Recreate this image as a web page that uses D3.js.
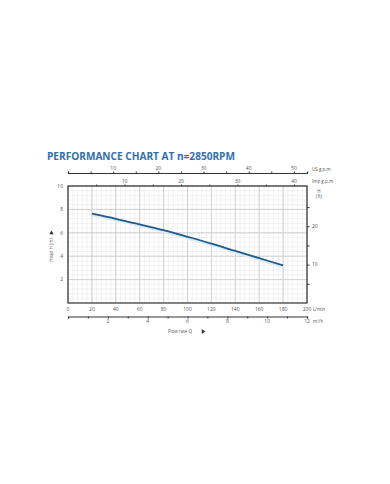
<!DOCTYPE html>
<html>
<head>
<meta charset="utf-8">
<script src="https://cdn.jsdelivr.net/npm/d3@7"></script>
<style>
  body { margin: 0; background: #fff; }
  svg text { font-family: "Open Sans", "Noto Sans", sans-serif; fill: #555; }
  .title { font-weight: 700; fill: #2f6fae; }
</style>
</head>
<body>
<div id="chart"></div>
<script>
// Performance curve, flow (L/min) vs head (m)
const flowLmin = [20, 40, 60, 80, 100, 120, 140, 160, 180];
const headM = [7.63, 7.2, 6.72, 6.22, 5.66, 5.08, 4.45, 3.83, 3.21];

// Axis tick labels
const lminTicks = [0, 20, 40, 60, 80, 100, 120, 140, 160, 180, 200];
const m3hTicks = [2, 4, 6, 8, 10, 12];
const usTicks = [10, 20, 30, 40, 50];
const impTicks = [10, 20, 30, 40];
const headTicks = [2, 4, 6, 8, 10];
const ftTicks = [10, 20];

const W = 390, H = 484;
const plot = { left: 68, right: 307, top: 186, bottom: 303 };

const svg = d3.select('#chart').append('svg')
  .attr('width', W).attr('height', H);

// Scales
const x = d3.scaleLinear().domain([0, 200]).range([plot.left, plot.right]);
const y = d3.scaleLinear().domain([0, 10]).range([plot.bottom, plot.top]);
const xM3 = d3.scaleLinear().domain([0, 12]).range([plot.left, plot.right]);
const xUs = d3.scaleLinear().domain([0, 52.9]).range([plot.left, plot.right]);
const xImp = d3.scaleLinear().domain([0, 42.3]).range([plot.left, plot.right]);
const yFt = d3.scaleLinear().domain([0, 30.5]).range([plot.bottom, plot.top]);

// Title
svg.append('text')
  .attr('class', 'title')
  .attr('x', 47).attr('y', 159.5)
  .style('font-size', '10.1px')
  .text('PERFORMANCE CHART AT n=2850RPM');

// Grid - minor
const grid = svg.append('g');
grid.selectAll('.vminor')
  .data(d3.range(0, 201, 4))
  .enter().append('line')
  .attr('x1', (d) => x(d)).attr('x2', (d) => x(d))
  .attr('y1', plot.top).attr('y2', plot.bottom)
  .attr('stroke', '#e6e6e6').attr('stroke-width', 0.5);
grid.selectAll('.hminor')
  .data(d3.range(0, 10.01, 0.4))
  .enter().append('line')
  .attr('x1', plot.left).attr('x2', plot.right)
  .attr('y1', (d) => y(d)).attr('y2', (d) => y(d))
  .attr('stroke', '#e6e6e6').attr('stroke-width', 0.5);

// Grid - major
grid.selectAll('.vmajor')
  .data(lminTicks)
  .enter().append('line')
  .attr('x1', (d) => x(d)).attr('x2', (d) => x(d))
  .attr('y1', plot.top).attr('y2', plot.bottom)
  .attr('stroke', '#c8c8c8').attr('stroke-width', 0.8);
grid.selectAll('.hmajor')
  .data(headTicks)
  .enter().append('line')
  .attr('x1', plot.left).attr('x2', plot.right)
  .attr('y1', (d) => y(d)).attr('y2', (d) => y(d))
  .attr('stroke', '#c8c8c8').attr('stroke-width', 0.8);

// Frame
svg.append('rect')
  .attr('x', plot.left).attr('y', plot.top)
  .attr('width', plot.right - plot.left).attr('height', plot.bottom - plot.top)
  .attr('fill', 'none').attr('stroke', '#333').attr('stroke-width', 1.2);

// Curve (light halo + dark line)
const line = d3.line().x((d, i) => x(flowLmin[i])).y((d) => y(d)).curve(d3.curveMonotoneX);
svg.append('path').datum(headM)
  .attr('d', line).attr('fill', 'none')
  .attr('stroke', '#dcedf8').attr('stroke-width', 3)
  .attr('transform', 'translate(0,1.3)');
svg.append('path').datum(headM)
  .attr('d', line).attr('fill', 'none')
  .attr('stroke', '#21598c').attr('stroke-width', 1.8);

const fs = '5px';

// Left axis labels (m)
svg.selectAll('.ylab')
  .data(headTicks)
  .enter().append('text')
  .attr('x', 63).attr('y', (d) => y(d) + 1.8)
  .attr('text-anchor', 'end').style('font-size', fs)
  .text((d) => d);

// Bottom L/min labels
svg.selectAll('.xlab')
  .data(lminTicks)
  .enter().append('text')
  .attr('x', (d) => x(d)).attr('y', 311)
  .attr('text-anchor', 'middle').style('font-size', fs)
  .text((d) => d);
svg.append('text').attr('x', 313).attr('y', 311)
  .style('font-size', '4.5px').text('L/min');

// m3/h axis
const gM3 = svg.append('g').attr('transform', 'translate(0,316.5)');
gM3.call(d3.axisBottom(xM3).tickValues(d3.range(0, 12.01, 1)).tickSize(2).tickFormat(''));
gM3.select('.domain').attr('stroke', '#333').attr('stroke-width', 1.2);
gM3.selectAll('.tick line').attr('stroke', '#333');
svg.selectAll('.m3lab')
  .data(m3hTicks)
  .enter().append('text')
  .attr('x', (d) => xM3(d)).attr('y', 323)
  .attr('text-anchor', 'middle').style('font-size', fs)
  .text((d) => d);
svg.append('text').attr('x', 313).attr('y', 323)
  .style('font-size', '4.5px').text('m³/h');

// US g.p.m axis
const gUs = svg.append('g').attr('transform', 'translate(0,173)');
gUs.call(d3.axisTop(xUs).tickValues(d3.range(0, 52, 5)).tickSize(1.5).tickFormat(''));
gUs.select('.domain').attr('stroke', '#333').attr('stroke-width', 1.2);
gUs.selectAll('.tick line').attr('stroke', '#333');
svg.selectAll('.uslab')
  .data(usTicks)
  .enter().append('text')
  .attr('x', (d) => xUs(d)).attr('y', 170)
  .attr('text-anchor', 'middle').style('font-size', fs)
  .text((d) => d);
svg.append('text').attr('x', 312).attr('y', 171)
  .style('font-size', '4.5px').text('US g.p.m');

// Imp g.p.m axis (on top of frame)
const gImp = svg.append('g').attr('transform', `translate(0,${plot.top})`);
gImp.call(d3.axisTop(xImp).tickValues(d3.range(5, 42, 5)).tickSize(1.5).tickFormat(''));
gImp.select('.domain').remove();
gImp.selectAll('.tick line').attr('stroke', '#333');
svg.selectAll('.implab')
  .data(impTicks)
  .enter().append('text')
  .attr('x', (d) => xImp(d)).attr('y', 182.5)
  .attr('text-anchor', 'middle').style('font-size', fs)
  .text((d) => d);
svg.append('text').attr('x', 312).attr('y', 183)
  .style('font-size', '4.5px').text('Imp g.p.m');

// Right axis H (ft)
const gFt = svg.append('g').attr('transform', `translate(${plot.right},0)`);
gFt.call(d3.axisRight(yFt).tickValues([5, 10, 15, 20, 25]).tickSize(2.5).tickFormat(''));
gFt.select('.domain').remove();
gFt.selectAll('.tick line').attr('stroke', '#333');
svg.selectAll('.ftlab')
  .data(ftTicks)
  .enter().append('text')
  .attr('x', 312).attr('y', (d) => yFt(d) + 1.8)
  .style('font-size', fs)
  .text((d) => d);
svg.append('text').attr('x', 319).attr('y', 193)
  .attr('text-anchor', 'middle').style('font-size', '4.5px').text('H');
svg.append('text').attr('x', 319).attr('y', 198)
  .attr('text-anchor', 'middle').style('font-size', '4.5px').text('(ft)');

// Axis titles
svg.append('text')
  .attr('transform', 'translate(53,250) rotate(-90)')
  .attr('text-anchor', 'middle').style('font-size', '4.5px')
  .text('Head H (m)');
svg.append('path')
  .attr('d', d3.symbol(d3.symbolTriangle, 8)())
  .attr('transform', 'translate(51.5,233)')
  .attr('fill', '#333');

svg.append('text')
  .attr('x', 180).attr('y', 333)
  .attr('text-anchor', 'middle').style('font-size', '4.5px')
  .text('Flow rate Q');
svg.append('path')
  .attr('d', d3.symbol(d3.symbolTriangle, 8)())
  .attr('transform', 'translate(203,331.5) rotate(90)')
  .attr('fill', '#333');
</script>
</body>
</html>
